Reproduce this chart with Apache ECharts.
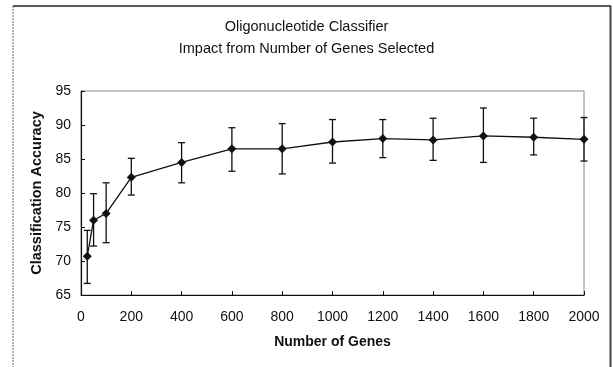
<!DOCTYPE html>
<html>
<head>
<meta charset="utf-8">
<script src="https://cdn.jsdelivr.net/npm/echarts@6/dist/echarts.min.js"></script>
<style>
html,body{margin:0;padding:0;background:#fff;}
#c{width:613px;height:367px;}
</style>
</head>
<body>
<div id="c"></div>
<script>
var genes = [25, 50, 100, 200, 400, 600, 800, 1000, 1200, 1400, 1600, 1800, 2000];
var accuracy = [70.7, 76.0, 77.0, 82.3, 84.5, 86.5, 86.5, 87.5, 88.0, 87.8, 88.4, 88.2, 87.9];
var errHigh = [74.5, 79.9, 81.5, 85.1, 87.4, 89.6, 90.2, 90.8, 90.8, 91.0, 92.5, 91.0, 91.1];
var errLow = [66.7, 72.2, 72.7, 79.7, 81.5, 83.2, 82.8, 84.4, 85.2, 84.8, 84.5, 85.6, 84.7];
var titleLines = ['Oligonucleotide Classifier', 'Impact from Number of Genes Selected'];

var font = 'Liberation Sans, Arial, sans-serif';
var lineData = genes.map(function (g, i) { return [g, accuracy[i]]; });
var errData = genes.map(function (g, i) { return [g, errLow[i], errHigh[i]]; });

var chart = echarts.init(document.getElementById('c'));
chart.setOption({
  animation: false,
  backgroundColor: '#fff',
  title: {
    text: titleLines.join('\n'),
    left: 'center',
    top: 11,
    textStyle: { fontFamily: font, fontSize: 14.5, fontWeight: 'normal', color: '#111', lineHeight: 22 }
  },
  graphic: [
    { type: 'line', shape: { x1: 13, y1: 6, x2: 611, y2: 6 }, style: { stroke: '#222', lineWidth: 1.5 } },
    { type: 'line', shape: { x1: 13, y1: 6, x2: 13, y2: 367 }, style: { stroke: '#666', lineWidth: 1, lineDash: [2, 1] } },
    { type: 'line', shape: { x1: 610.5, y1: 6, x2: 610.5, y2: 367 }, style: { stroke: '#444', lineWidth: 2 } }
  ],
  grid: {
    left: 81, right: 29, top: 91, bottom: 72,
    show: true, borderColor: '#888', borderWidth: 1, backgroundColor: 'transparent'
  },
  xAxis: {
    type: 'value', min: 0, max: 2000, interval: 200,
    name: 'Number of Genes', nameLocation: 'middle', nameGap: 40,
    nameTextStyle: { fontFamily: font, fontSize: 14, fontWeight: 'bold', color: '#111' },
    axisLine: { lineStyle: { color: '#111', width: 1.2 } },
    axisTick: { inside: true, length: 4, lineStyle: { color: '#111' } },
    axisLabel: { fontFamily: font, fontSize: 14, color: '#111', margin: 15, formatter: function (v) { return String(v); } },
    splitLine: { show: false }
  },
  yAxis: {
    type: 'value', min: 65, max: 95, interval: 5,
    name: 'Classification Accuracy', nameLocation: 'middle', nameGap: 32,
    nameTextStyle: { fontFamily: font, fontSize: 14.5, fontWeight: 'bold', color: '#111' },
    axisLine: { show: true, lineStyle: { color: '#111', width: 1.2 } },
    axisTick: { show: true, inside: true, length: 4, lineStyle: { color: '#111' } },
    axisLabel: { fontFamily: font, fontSize: 14, color: '#111', margin: 10 },
    splitLine: { show: false }
  },
  series: [
    {
      type: 'custom',
      data: errData,
      z: 3,
      renderItem: function (params, api) {
        var x = api.value(0);
        var lo = api.coord([x, api.value(1)]);
        var hi = api.coord([x, api.value(2)]);
        var w = 3.5;
        var st = { stroke: '#111', lineWidth: 1.3 };
        return {
          type: 'group',
          children: [
            { type: 'line', shape: { x1: lo[0], y1: lo[1], x2: hi[0], y2: hi[1] }, style: st },
            { type: 'line', shape: { x1: hi[0] - w, y1: hi[1], x2: hi[0] + w, y2: hi[1] }, style: st },
            { type: 'line', shape: { x1: lo[0] - w, y1: lo[1], x2: lo[0] + w, y2: lo[1] }, style: st }
          ]
        };
      }
    },
    {
      type: 'line',
      data: lineData,
      z: 4,
      symbol: 'diamond',
      symbolSize: 9,
      lineStyle: { color: '#111', width: 1.3 },
      itemStyle: { color: '#111' }
    }
  ]
});
</script>
</body>
</html>
